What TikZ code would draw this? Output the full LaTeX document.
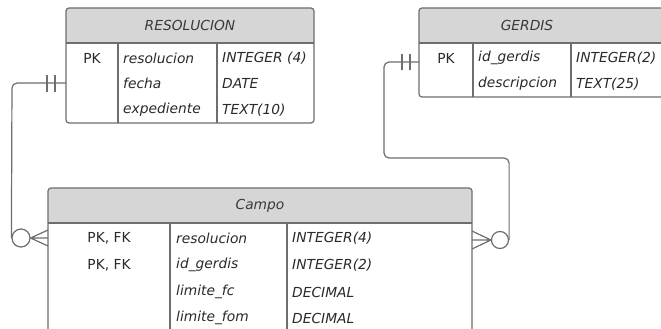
\documentclass[tikz,border=0pt]{standalone}
\usepackage{fontspec}
\setmainfont{DejaVu Sans}
\definecolor{linegray}{HTML}{6E6E6E}
\definecolor{headfill}{HTML}{D6D6D6}
\definecolor{hdrtext}{HTML}{3A3A3A}
\definecolor{celltext}{HTML}{2A2A2A}
\tikzset{
  tbl/.style={draw=linegray, line width=1.2pt, rounded corners=3pt, inner sep=0pt, outer sep=0pt, rectangle, anchor=north west},
  hfill/.style={fill=headfill},
  gline/.style={draw=linegray, line width=1.2pt},
  hdr/.style={font=\fontsize{13.8}{16}\selectfont\itshape, text=hdrtext, inner sep=0pt},
  cell/.style={font=\fontsize{13.8}{16}\selectfont\itshape, text=celltext, anchor=west, inner sep=0pt},
  pk/.style={font=\fontsize{13.8}{16}\selectfont, text=celltext, inner sep=0pt},
  conn/.style={draw=linegray, line width=1.2pt, rounded corners=5pt},
  endc/.style={draw=linegray, line width=1.2pt, fill=white},
}
\begin{document}
\begin{tikzpicture}[x=1pt,y=-1pt]
\useasboundingbox (0,0) rectangle (661,329);
\clip (0,0) rectangle (661,329);
\fill[white] (0,0) rectangle (661,329);

% RESOLUCION
\fill[hfill] (66,43) [rounded corners=3pt]-- (66,8) -- (314,8) [sharp corners]-- (314,43) -- cycle;
\node[tbl, minimum width=248pt, minimum height=115pt] (res) at (66,8) {};
\draw[gline] (66,43) -- (314,43);
\draw[gline] (118,43) -- (118,123);
\draw[gline] (217,43) -- (217,123);
\node[hdr] (resh) at (190,25.5) {RESOLUCION};
\node[pk] (respk) at (92,58) {PK};
\node[cell] (resc1) at (123,58) {resolucion};
\node[cell] (resc2) at (123,83) {fecha};
\node[cell] (resc3) at (123,110) {expediente};
\node[cell] (rest1) at (222,58) {INTEGER (4)};
\node[cell] (rest2) at (222,83) {DATE};
\node[cell] (rest3) at (222,110) {TEXT(10)};

% GERDIS
\fill[hfill] (419,43) [rounded corners=3pt]-- (419,8) -- (680,8) [sharp corners]-- (680,43) -- cycle;
\node[tbl, minimum width=261pt, minimum height=89pt] (ger) at (419,8) {};
\draw[gline] (419,43) -- (680,43);
\draw[gline] (473,43) -- (473,97);
\draw[gline] (571,43) -- (571,97);
\node[hdr] (gerh) at (527,25.5) {GERDIS};
\node[pk] (gerpk) at (446,58) {PK};
\node[cell] (gerc1) at (478,58) {id\_gerdis};
\node[cell] (gerc2) at (478,84) {descripcion};
\node[cell] (gert1) at (576,58) {INTEGER(2)};
\node[cell] (gert2) at (576,84) {TEXT(25)};

% Campo
\fill[hfill] (48,223) [rounded corners=3pt]-- (48,188) -- (472,188) [sharp corners]-- (472,223) -- cycle;
\node[tbl, minimum width=424pt, minimum height=155pt] (cam) at (48,188) {};
\draw[gline] (48,223) -- (472,223);
\draw[gline] (170,223) -- (170,340);
\draw[gline] (287,223) -- (287,340);
\node[hdr] (camh) at (260,206) {Campo};
\node[pk] (campk1) at (109,238) {PK, FK};
\node[pk] (campk2) at (109,265) {PK, FK};
\node[cell] (camc1) at (176,238) {resolucion};
\node[cell] (camc2) at (176,265) {id\_gerdis};
\node[cell] (camc3) at (176,292) {limite\_fc};
\node[cell] (camc4) at (176,318) {limite\_fom};
\node[cell] (camt1) at (292,238) {INTEGER(4)};
\node[cell] (camt2) at (292,265) {INTEGER(2)};
\node[cell] (camt3) at (292,292) {DECIMAL};
\node[cell] (camt4) at (292,318) {DECIMAL};

% Connector RESOLUCION -> Campo
\coordinate (a1) at (res.west |- 0,83);
\node[endc, circle, minimum size=18pt, inner sep=0pt] (o1) at (21,238) {};
\coordinate (f1) at (cam.west |- o1);
\draw[conn] (a1) -- (12,83) -- (o1.west);
\draw[gline] (47,75) -- (47,92) (55,75) -- (55,92);
\draw[gline] (o1.east) -- ([yshift=-8pt]f1) (o1.east) -- (f1) (o1.east) -- ([yshift=8pt]f1);

% Connector GERDIS -> Campo
\coordinate (a2) at (ger.west |- 0,62);
\node[endc, circle, minimum size=17pt, inner sep=0pt] (o2) at (500,240) {};
\coordinate (f2) at (cam.east |- o2);
\draw[conn] (a2) -- (384,62) -- (384,158) -- (o2.east |- 0,158) -- (o2.east);
\draw[gline] (402,54) -- (402,70) (410,54) -- (410,70);
\draw[gline] (o2.west) -- ([yshift=-9pt]f2) (o2.west) -- (f2) (o2.west) -- ([yshift=9pt]f2);
\end{tikzpicture}
\end{document}
